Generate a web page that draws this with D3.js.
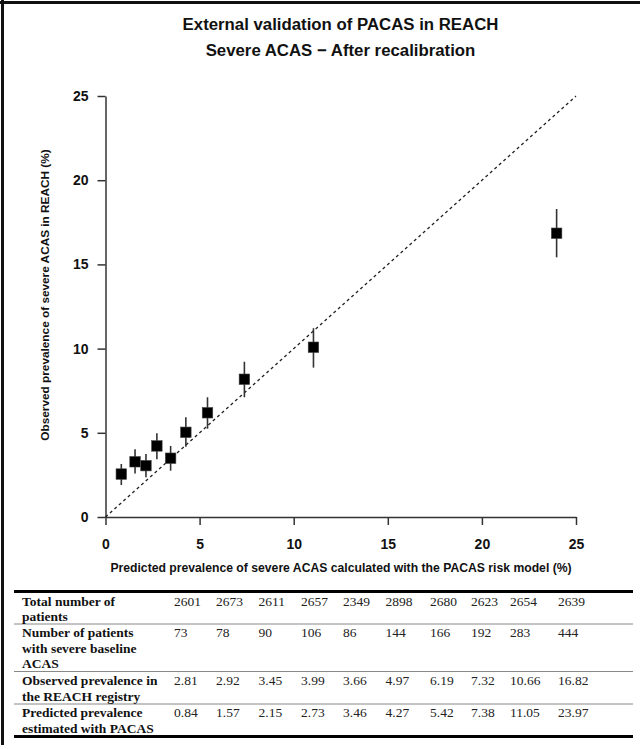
<!DOCTYPE html>
<html>
<head>
<meta charset="utf-8">
<script src="https://cdn.jsdelivr.net/npm/d3@7"></script>
<style>
  html, body { margin: 0; padding: 0; background: #fff; }
  svg { display: block; }
</style>
</head>
<body>
<svg id="chart" width="640" height="749"></svg>
<script>
// ---------------- data ----------------
const titleLines = ["External validation of PACAS in REACH", "Severe ACAS \u2212 After recalibration"];
const xTitle = "Predicted prevalence of severe ACAS calculated with the PACAS risk model (%)";
const yTitle = "Observed prevalence of severe ACAS in REACH (%)";
const axisTicks = [0, 5, 10, 15, 20, 25];

const predicted = [0.84, 1.57, 2.15, 2.73, 3.46, 4.27, 5.42, 7.38, 11.05, 23.97];
const observedPlotted = [2.55, 3.28, 3.05, 4.22, 3.49, 5.03, 6.19, 8.18, 10.08, 16.85];
const ciLower = [1.90, 2.59, 2.36, 3.43, 2.75, 4.17, 5.24, 7.11, 8.87, 15.42];
const ciUpper = [3.15, 4.02, 3.74, 4.97, 4.22, 5.92, 7.11, 9.22, 11.21, 18.29];

const rowLabels = [
  ["Total number of", "patients"],
  ["Number of patients", "with severe baseline", "ACAS"],
  ["Observed prevalence in", "the REACH registry"],
  ["Predicted prevalence", "estimated with PACAS"]
];
const totalPatients = ["2601", "2673", "2611", "2657", "2349", "2898", "2680", "2623", "2654", "2639"];
const severeCount = ["73", "78", "90", "106", "86", "144", "166", "192", "283", "444"];
const observedTable = ["2.81", "2.92", "3.45", "3.99", "3.66", "4.97", "6.19", "7.32", "10.66", "16.82"];
const predictedTable = ["0.84", "1.57", "2.15", "2.73", "3.46", "4.27", "5.42", "7.38", "11.05", "23.97"];

// ---------------- layout ----------------
const svg = d3.select("#chart");
const sans = "'Liberation Sans', Arial, Helvetica, sans-serif";
const serif = "'Liberation Serif', 'Times New Roman', serif";

const x = d3.scaleLinear().domain([0, 25]).range([105.5, 576]);
const y = d3.scaleLinear().domain([0, 25]).range([517, 96]);

// figure border (top + left)
svg.append("line").attr("x1", 0).attr("x2", 640).attr("y1", 2.5).attr("y2", 2.5)
  .attr("stroke", "#111").attr("stroke-width", 3);
svg.append("line").attr("x1", 2.5).attr("x2", 2.5).attr("y1", 0).attr("y2", 745)
  .attr("stroke", "#111").attr("stroke-width", 3);

// title
svg.append("g").selectAll("text").data(titleLines).join("text")
  .attr("x", 340.5).attr("y", (d, i) => 30 + i * 25.5)
  .attr("text-anchor", "middle")
  .attr("font-family", sans).attr("font-weight", "bold").attr("font-size", 16.8)
  .attr("fill", "#111").text(d => d);

// axes
const axisColor = "#333";
const xAxis = svg.append("g").attr("transform", `translate(0,${y(0)})`)
  .call(d3.axisBottom(x).tickValues(axisTicks).tickSize(8).tickPadding(14).tickSizeOuter(0));
const yAxis = svg.append("g").attr("transform", `translate(${x(0)},0)`)
  .call(d3.axisLeft(y).tickValues(axisTicks).tickSize(8).tickPadding(9).tickSizeOuter(0));
[xAxis, yAxis].forEach(g => {
  g.select(".domain").attr("stroke", axisColor).attr("stroke-width", 1.5);
  g.selectAll(".tick line").attr("stroke", axisColor).attr("stroke-width", 1.5);
  g.selectAll(".tick text").attr("font-family", sans).attr("font-weight", "bold")
    .attr("font-size", 14).attr("fill", "#111");
});

// axis titles
svg.append("text").attr("x", 341).attr("y", 572)
  .attr("text-anchor", "middle").attr("font-family", sans).attr("font-weight", "bold")
  .attr("font-size", 12.2).attr("fill", "#111").text(xTitle);
svg.append("text").attr("transform", `translate(48.5,${295}) rotate(-90)`)
  .attr("text-anchor", "middle").attr("font-family", sans).attr("font-weight", "bold")
  .attr("font-size", 11.8).attr("fill", "#111").text(yTitle);

// identity line
svg.append("line")
  .attr("x1", x(0)).attr("y1", y(0)).attr("x2", x(25)).attr("y2", y(25))
  .attr("stroke", "#222").attr("stroke-width", 1.3).attr("stroke-dasharray", "3,3");

// error bars
const pts = predicted.map((p, i) => ({ p, o: observedPlotted[i], lo: ciLower[i], hi: ciUpper[i] }));
svg.append("g").selectAll("line").data(pts).join("line")
  .attr("x1", d => x(d.p)).attr("x2", d => x(d.p))
  .attr("y1", d => y(d.lo)).attr("y2", d => y(d.hi))
  .attr("stroke", "#333").attr("stroke-width", 1.6);

// squares
const sq = 10.5;
svg.append("g").selectAll("rect").data(pts).join("rect")
  .attr("x", d => x(d.p) - sq / 2).attr("y", d => y(d.o) - sq / 2)
  .attr("width", sq).attr("height", sq)
  .attr("fill", "#000").attr("stroke", "#444").attr("stroke-width", 0.6);

// ---------------- table ----------------
const tableLeft = 14, tableRight = 633;
const labelX = 22;
const colX = [174, 216, 258.5, 301, 343, 385.5, 430, 471, 510, 558];
const rowTops = [605.5, 637, 685, 717];     // baseline of first line in each row
const lineGap = 15.5;
const rowValues = [totalPatients, severeCount, observedTable, predictedTable];

const rules = [
  { y: 591.5, w: 3, c: "#000" },
  { y: 624, w: 1, c: "#888" },
  { y: 671.5, w: 1, c: "#888" },
  { y: 704, w: 1, c: "#888" },
  { y: 736.5, w: 3, c: "#000" }
];
svg.append("g").selectAll("line").data(rules).join("line")
  .attr("x1", tableLeft).attr("x2", tableRight)
  .attr("y1", d => d.y).attr("y2", d => d.y)
  .attr("stroke", d => d.c).attr("stroke-width", d => d.w);

const rowsG = svg.append("g");
rowLabels.forEach((lines, r) => {
  rowsG.append("g").selectAll("text").data(lines).join("text")
    .attr("x", labelX).attr("y", (d, i) => rowTops[r] + i * lineGap)
    .attr("font-family", serif).attr("font-weight", "bold").attr("font-size", 13.5)
    .attr("fill", "#111").text(d => d);
  rowsG.append("g").selectAll("text").data(rowValues[r]).join("text")
    .attr("x", (d, i) => colX[i]).attr("y", rowTops[r])
    .attr("font-family", serif).attr("font-size", 13.5)
    .attr("fill", "#222").text(d => d);
});
</script>
</body>
</html>
